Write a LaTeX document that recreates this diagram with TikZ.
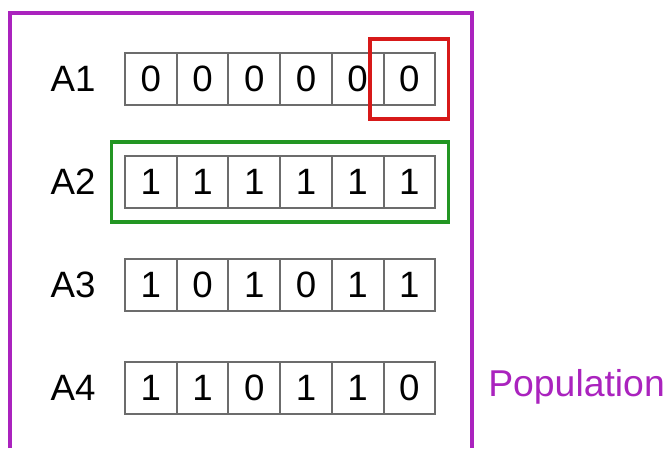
\documentclass[tikz,border=0pt]{standalone}
\usepackage{fontspec}
\setmainfont{Liberation Sans}
\usetikzlibrary{fit}

\begin{document}
\begin{tikzpicture}[x=0.0254cm,y=-0.0254cm,
  font=\fontsize{26.5}{30}\selectfont,
  cell/.style={rectangle,draw=gray!85!black,line width=0.5mm,minimum width=1.313cm,
               minimum height=1.34cm,inner sep=0pt},
  lbl/.style={inner sep=0pt},
  mark box/.style={rectangle,draw=#1,line width=0.8mm,inner sep=0.32cm},
]
  \definecolor{cpop}{RGB}{170,35,190}
  \definecolor{cred}{RGB}{215,25,25}
  \definecolor{cgreen}{RGB}{35,150,35}

  \useasboundingbox (0,0) rectangle (670,448);

  % population frame (runs off the bottom)
  \draw[cpop,line width=0.8mm] (10,448) |- (472,13) -- (472,448);
  \node[lbl,anchor=west,text=cpop,font=\fontsize{27}{30}\selectfont] (pop) at (488,387) {Population};

  % chromosomes
  \foreach \name/\bits [count=\r] in {A1/{0,0,0,0,0,0},A2/{1,1,1,1,1,1},
                                      A3/{1,0,1,0,1,1},A4/{1,1,0,1,1,0}} {
    \node[lbl] (lab\r) at (73,{79+103*(\r-1)}) {\name};
    \foreach \b [count=\c] in \bits
      \node[cell] (c\r-\c) at ({150.85+51.7*(\c-1)},{79+103*(\r-1)}) {\b};
  }

  % highlights
  \node[mark box=cred,fit=(c1-6)] (mut) {};
  \node[mark box=cgreen,fit=(c2-1)(c2-6)] (best) {};
\end{tikzpicture}
\end{document}
